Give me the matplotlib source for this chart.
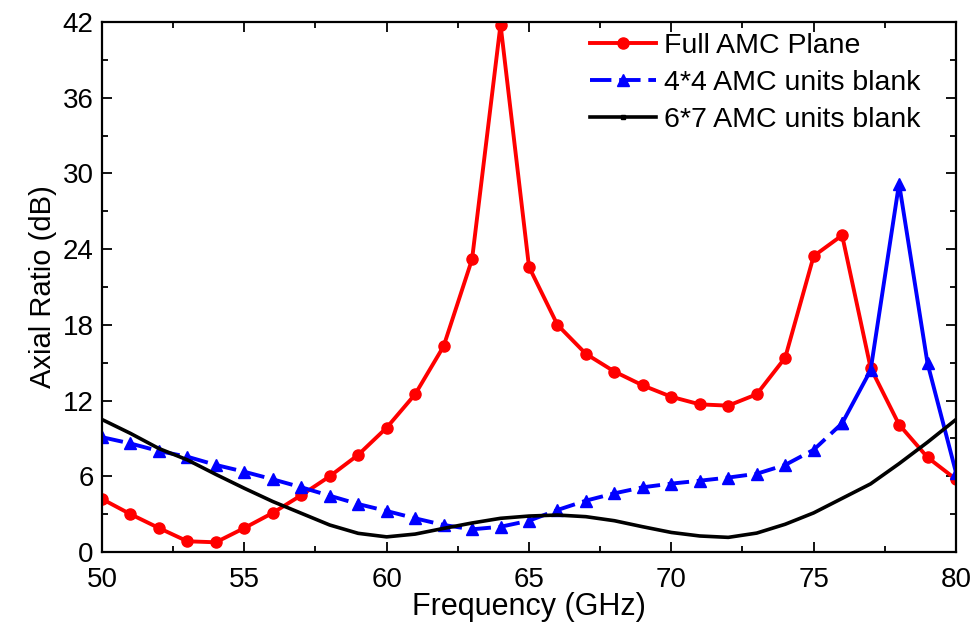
import matplotlib
matplotlib.use("Agg")
import matplotlib.pyplot as plt
from matplotlib.ticker import MultipleLocator

plt.rcParams["font.family"] = ["Liberation Sans", "DejaVu Sans"]

freq = list(range(50, 81))

full_amc = [4.2, 3.0, 1.9, 0.85, 0.77, 1.9, 3.1, 4.5, 6.0, 7.7, 9.85,
            12.5, 16.3, 23.2, 41.8, 22.6, 18.0, 15.7, 14.3, 13.2, 12.3,
            11.7, 11.6, 12.5, 15.4, 23.45, 25.1, 14.6, 10.1, 7.5, 5.76]

blank_4x4 = [9.1, 8.6, 8.0, 7.55, 6.9, 6.36, 5.76, 5.13, 4.46, 3.8, 3.25,
             2.67, 2.14, 1.8, 2.0, 2.48, 3.33, 4.07, 4.65, 5.13, 5.42,
             5.65, 5.9, 6.2, 6.9, 8.1, 10.2, 14.4, 29.2, 14.95, 6.3]

blank_6x7 = [10.5, 9.4, 8.2, 7.3, 6.15, 5.05, 4.0, 3.07, 2.14, 1.48, 1.2,
             1.42, 1.87, 2.3, 2.67, 2.85, 2.93, 2.8, 2.48, 2.0, 1.55,
             1.27, 1.16, 1.5, 2.2, 3.1, 4.25, 5.4, 7.0, 8.7, 10.5]

# in the original the steep segments of the blue curve render as solid
split = freq.index(76)

fig = plt.figure(figsize=(9.76, 6.29), dpi=100)
ax = fig.add_axes([0.1045, 0.1224, 0.875, 0.8426])

ax.plot(freq, full_amc, color="#ff0000", lw=2.8, marker="o", ms=8,
        label="Full AMC Plane")
ax.plot(freq[:split + 1], blank_4x4[:split + 1], color="#0000ff", lw=2.8,
        marker="^", ms=8.5, dashes=(5.5, 2), label="4*4 AMC units blank")
ax.plot(freq[split:], blank_4x4[split:], color="#0000ff", lw=2.8,
        marker="^", ms=8.5)
ax.plot(freq, blank_6x7, color="black", lw=2.6, marker="s", ms=2,
        markevery=[], label="6*7 AMC units blank")

ax.set_xlim(50, 80)
ax.set_ylim(0, 42)
ax.xaxis.set_major_locator(MultipleLocator(5))
ax.xaxis.set_minor_locator(MultipleLocator(2.5))
ax.yaxis.set_major_locator(MultipleLocator(6))
ax.yaxis.set_minor_locator(MultipleLocator(3))
ax.tick_params(which="both", direction="in", top=True, right=True,
               width=1.3, labelsize=20)
ax.tick_params(which="major", length=7)
ax.tick_params(which="minor", length=4)
ax.tick_params(axis="x", pad=11)
ax.tick_params(axis="y", pad=6)
for s in ax.spines.values():
    s.set_linewidth(1.6)

ax.set_xlabel("Frequency (GHz)", fontsize=22, labelpad=-1)
ax.set_ylabel("Axial Ratio (dB)", fontsize=21, labelpad=4)

leg = ax.legend(loc="upper right", frameon=False, fontsize=20.5,
                handlelength=2.3, handletextpad=0.3, labelspacing=0.38,
                borderaxespad=0.0, bbox_to_anchor=(0.972, 1.0))
# small marker in the black legend entry, as in the original
leg.legend_handles[2].set_marker("s")
leg.legend_handles[2].set_markersize(2.5)

fig.savefig("out.png", dpi=100)
